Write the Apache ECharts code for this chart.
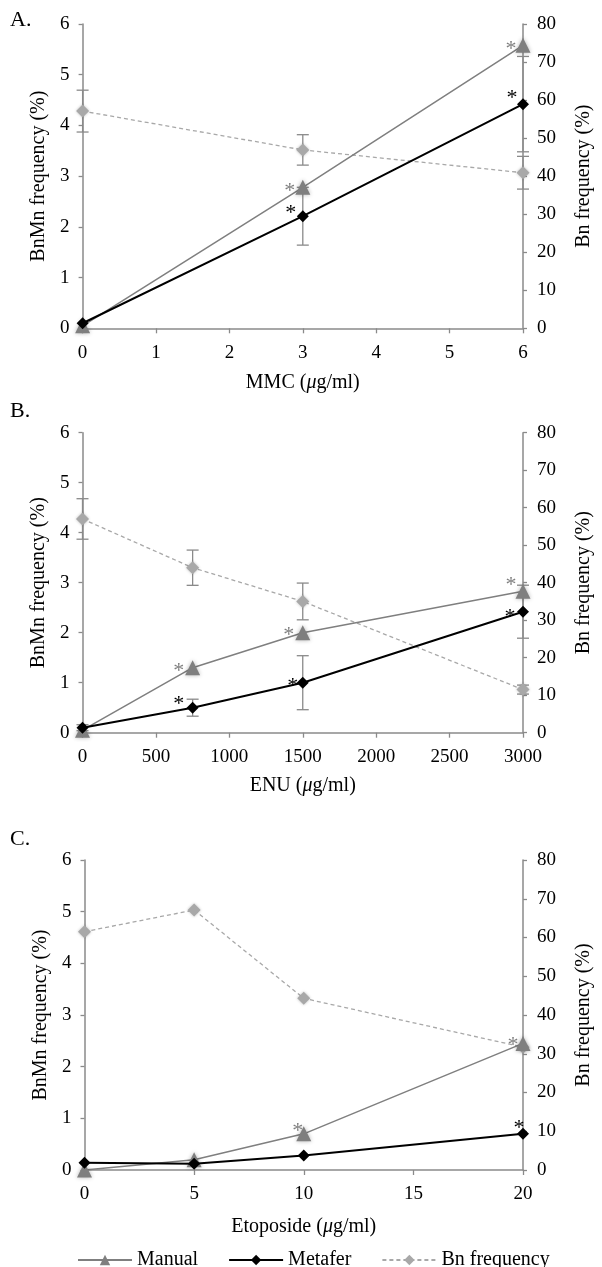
<!DOCTYPE html>
<html><head><meta charset="utf-8">
<script src="https://cdn.jsdelivr.net/npm/echarts@6/dist/echarts.min.js"></script>
<style>html,body{margin:0;padding:0;background:#fff}#c{width:602px;height:1267px}</style>
</head><body><div id="c"></div>
<script>
// ---------------- DATA ----------------
// Panel A: MMC
const xA = [0, 3, 6];
const manualA = [0.05, 2.78, 5.58];
const metaferA = [0.1, 2.21, 4.42];
const bnA = [57.1, 46.9, 40.9];
const manualErrA = [0, 0, 0];
const metaferErrA = [0, 0.57, 0.94];
const bnErrA = [5.5, 4.0, 4.3];
const manualStarA = [0, 1, 1];
const metaferStarA = [0, 1, 1];

// Panel B: ENU
const xB = [0, 750, 1500, 3000];
const manualB = [0.05, 1.3, 2.0, 2.83];
const metaferB = [0.1, 0.5, 1.0, 2.42];
const bnB = [57.0, 44.0, 35.0, 11.5];
const manualErrB = [0, 0, 0, 0];
const metaferErrB = [0.06, 0.17, 0.54, 0.53];
const bnErrB = [5.4, 4.7, 4.9, 1.2];
const manualStarB = [0, 1, 1, 1];
const metaferStarB = [0, 1, 1, 1];

// Panel C: Etoposide
const xC = [0, 5, 10, 20];
const manualC = [0.0, 0.2, 0.7, 2.45];
const metaferC = [0.14, 0.12, 0.28, 0.7];
const bnC = [61.5, 67.1, 44.3, 31.7];
const manualErrC = [0, 0, 0, 0];
const metaferErrC = [0, 0, 0, 0];
const bnErrC = [0, 0, 0, 0];
const manualStarC = [0, 0, 1, 1];
const metaferStarC = [0, 0, 0, 1];

// axis ranges [min, max, interval]
const xRangeA = [0, 6, 1];
const xRangeB = [0, 3000, 500];
const xRangeC = [0, 20, 5];
const leftRange = [0, 6, 1];
const rightRange = [0, 80, 10];

const panelLetters = ['A.', 'B.', 'C.'];
const xTitles = ['MMC ({i|\u03bc}g/ml)', 'ENU ({i|\u03bc}g/ml)', 'Etoposide ({i|\u03bc}g/ml)'];
const leftTitle = 'BnMn frequency (%)';
const rightTitle = 'Bn frequency (%)';
const seriesNames = ['Manual', 'Metafer', 'Bn frequency'];

// ---------------- LAYOUT / STYLE ----------------
const FONT = 'Liberation Serif';
const AX = '#8a8a8a';
const grids = [
  {left: 82.6, right: 73, top: 24, height: 304.3},
  {left: 82.5, right: 68.4, top: 432.7, height: 300},
  {left: 84.5, right: 68.4, top: 860, height: 310}
];
const xNameGaps = [44, 43, 47];
const letterPos = [[10, 21], [10, 412], [10, 840]];
// star label offsets (px) per panel, per point
const manualStarOff = [
  [null, [-13, 4], [-12, 4]],
  [null, [-14, 4], [-14, 3], [-12, -6]],
  [null, null, [-6, -3], [-10, 2]]
];
const metaferStarOff = [
  [null, [-12, -3], [-11, -6]],
  [null, [-14, -3], [-10, 4], [-13, 6]],
  [null, null, null, [-4, -6]]
];

const panels = [
  {x: xA, man: manualA, met: metaferA, bn: bnA, manE: manualErrA, metE: metaferErrA, bnE: bnErrA, manS: manualStarA, metS: metaferStarA, xr: xRangeA},
  {x: xB, man: manualB, met: metaferB, bn: bnB, manE: manualErrB, metE: metaferErrB, bnE: bnErrB, manS: manualStarB, metS: metaferStarB, xr: xRangeB},
  {x: xC, man: manualC, met: metaferC, bn: bnC, manE: manualErrC, metE: metaferErrC, bnE: bnErrC, manS: manualStarC, metS: metaferStarC, xr: xRangeC}
];

const tickLabel = {color: '#000', fontFamily: FONT, fontSize: 19, formatter: v => String(v)};
const nameStyle = {color: '#000', fontFamily: FONT, fontSize: 20,
  rich: {i: {fontStyle: 'italic', fontFamily: FONT, fontSize: 20, color: '#000'}}};

const xAxes = [], yAxes = [], series = [];

function errRender(params, api) {
  const x = api.value(0), y = api.value(1), e = api.value(2);
  if (!e) return null;
  const hi = api.coord([x, y + e]), lo = api.coord([x, y - e]);
  const hw = 6;
  const st = {stroke: AX, lineWidth: 1.3};
  return {type: 'group', children: [
    {type: 'line', shape: {x1: hi[0], y1: hi[1], x2: lo[0], y2: lo[1]}, style: st},
    {type: 'line', shape: {x1: hi[0] - hw, y1: hi[1], x2: hi[0] + hw, y2: hi[1]}, style: st},
    {type: 'line', shape: {x1: lo[0] - hw, y1: lo[1], x2: lo[0] + hw, y2: lo[1]}, style: st}
  ]};
}

function starData(xs, ys, stars, offs, color) {
  return xs.map((x, k) => {
    const item = {value: [x, ys[k]]};
    if (stars[k]) {
      item.label = {show: true, formatter: '*', position: 'inside', offset: offs[k] || [-12, 0],
        color: color, fontFamily: FONT, fontSize: 22};
    }
    return item;
  });
}

panels.forEach((p, i) => {
  xAxes.push({
    gridIndex: i, type: 'value', min: p.xr[0], max: p.xr[1], interval: p.xr[2],
    name: xTitles[i], nameLocation: 'middle', nameGap: xNameGaps[i], nameTextStyle: nameStyle,
    axisLine: {show: true, onZero: false, lineStyle: {color: AX, width: 1.5}},
    axisTick: {show: true, inside: false, length: 5, lineStyle: {color: AX, width: 1.3}},
    axisLabel: Object.assign({margin: 15}, tickLabel),
    splitLine: {show: false}
  });
  yAxes.push({
    gridIndex: i, type: 'value', position: 'left', min: leftRange[0], max: leftRange[1], interval: leftRange[2],
    name: leftTitle, nameLocation: 'middle', nameRotate: 90, nameGap: 34, nameTextStyle: nameStyle,
    axisLine: {show: true, lineStyle: {color: AX, width: 1.5}},
    axisTick: {show: true, inside: false, length: 4, lineStyle: {color: AX, width: 1.3}},
    axisLabel: Object.assign({margin: 13}, tickLabel),
    splitLine: {show: false}
  });
  yAxes.push({
    gridIndex: i, type: 'value', position: 'right', min: rightRange[0], max: rightRange[1], interval: rightRange[2],
    name: rightTitle, nameLocation: 'middle', nameRotate: 90, nameGap: 51, nameTextStyle: nameStyle,
    axisLine: {show: true, lineStyle: {color: AX, width: 1.5}},
    axisTick: {show: true, inside: false, length: 4, lineStyle: {color: AX, width: 1.3}},
    axisLabel: Object.assign({margin: 14}, tickLabel),
    splitLine: {show: false}
  });
  const yl = 2 * i, yr = 2 * i + 1;
  // error bars
  series.push({type: 'custom', name: 'errBn' + i, xAxisIndex: i, yAxisIndex: yr, z: 1, renderItem: errRender,
    data: p.x.map((x, k) => [x, p.bn[k], p.bnE[k]])});
  series.push({type: 'custom', name: 'errMet' + i, xAxisIndex: i, yAxisIndex: yl, z: 1, renderItem: errRender,
    data: p.x.map((x, k) => [x, p.met[k], p.metE[k]])});
  series.push({type: 'custom', name: 'errMan' + i, xAxisIndex: i, yAxisIndex: yl, z: 1, renderItem: errRender,
    data: p.x.map((x, k) => [x, p.man[k], p.manE[k]])});
  // Bn frequency
  series.push({type: 'line', name: seriesNames[2], xAxisIndex: i, yAxisIndex: yr, z: 3,
    symbol: 'diamond', symbolSize: 13,
    itemStyle: {color: '#a8a8a8', shadowBlur: 3, shadowColor: 'rgba(0,0,0,0.25)'},
    lineStyle: {color: '#a8a8a8', width: 1.3, type: [4, 3]},
    data: p.x.map((x, k) => [x, p.bn[k]])});
  // Manual
  series.push({type: 'line', name: seriesNames[0], xAxisIndex: i, yAxisIndex: yl, z: 4,
    symbol: 'triangle', symbolSize: 15,
    itemStyle: {color: '#7f7f7f', shadowBlur: 4, shadowColor: 'rgba(0,0,0,0.3)'},
    lineStyle: {color: '#7f7f7f', width: 1.5},
    data: starData(p.x, p.man, p.manS, manualStarOff[i], '#7f7f7f')});
  // Metafer
  series.push({type: 'line', name: seriesNames[1], xAxisIndex: i, yAxisIndex: yl, z: 5,
    symbol: 'diamond', symbolSize: 12,
    itemStyle: {color: '#000'},
    lineStyle: {color: '#000', width: 2},
    data: starData(p.x, p.met, p.metS, metaferStarOff[i], '#000')});
});

const chart = echarts.init(document.getElementById('c'), null, {renderer: 'canvas'});
chart.setOption({
  animation: false,
  backgroundColor: '#fff',
  grid: grids,
  xAxis: xAxes,
  yAxis: yAxes,
  legend: {
    data: seriesNames, left: 72, top: 1245, itemWidth: 54, itemHeight: 13, itemGap: 30,
    textStyle: {color: '#000', fontFamily: FONT, fontSize: 20}
  },
  graphic: panelLetters.map((t, i) => ({
    type: 'text', left: letterPos[i][0], top: letterPos[i][1] - 12,
    style: {text: t, font: '22px "' + FONT + '"', fill: '#000'}
  })),
  series: series
});
</script></body></html>
